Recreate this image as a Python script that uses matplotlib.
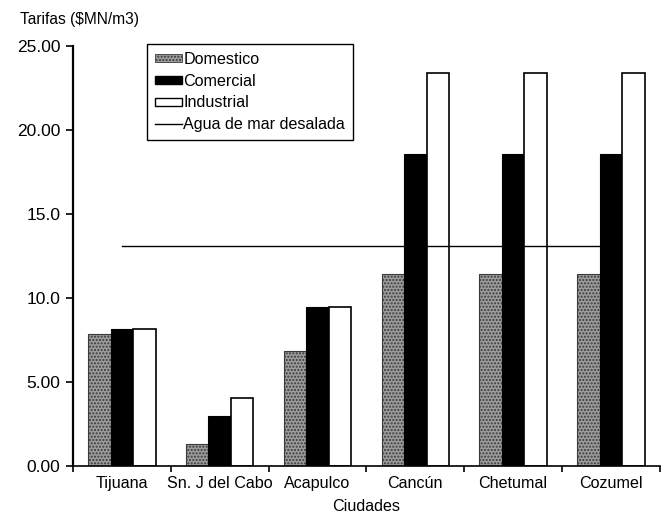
import numpy as np
import matplotlib
matplotlib.use('Agg')
import matplotlib.pyplot as plt
from matplotlib.lines import Line2D
from matplotlib.patches import Patch

plt.rcParams['font.family'] = ['Liberation Sans', 'DejaVu Sans']

ciudades = ['Tijuana', 'Sn. J del Cabo', 'Acapulco', 'Cancún', 'Chetumal', 'Cozumel']
domestico = [7.85, 1.33, 6.85, 11.45, 11.45, 11.45]
comercial = [8.15, 2.98, 9.45, 18.55, 18.55, 18.55]
industrial = [8.15, 4.03, 9.45, 23.4, 23.4, 23.4]
agua_mar = 13.1  # costo agua de mar desalada

yticks = [0, 5, 10, 15, 20, 25]
ytick_labels = ['0.00', '5.00', '10.0', '15.0', '20.00', '25.00']

fig = plt.figure(figsize=(6.66, 5.24), dpi=100)
ax = fig.add_axes([0.1096, 0.1107, 0.881, 0.8015])

x = np.arange(len(ciudades))
w = 0.23
dom_color = '#9c9c9c'
ax.bar(x - w, domestico, w, color=dom_color, edgecolor='#3a3a3a', hatch='.....', linewidth=0.8, zorder=2)
ax.bar(x, comercial, w, color='black', edgecolor='black', linewidth=0.8, zorder=2)
ax.bar(x + w, industrial, w, color='white', edgecolor='black', linewidth=1.2, zorder=2)
# la linea pasa por encima de las barras
ax.plot([x[0], x[-1]], [agua_mar, agua_mar], color='black', linewidth=1.0, zorder=3)

ax.set_xlim(-0.5, len(ciudades) - 0.5)
ax.set_ylim(0, 25)
ax.set_yticks(yticks)
ax.set_yticklabels(ytick_labels, fontsize=12.5)
ax.set_xticks(np.arange(len(ciudades) + 1) - 0.5)
ax.set_xticklabels([])
ax.set_xticks(x, minor=True)
ax.set_xticklabels(ciudades, minor=True, fontsize=11.6)
ax.tick_params(axis='x', which='minor', length=0, pad=7)
ax.tick_params(axis='x', which='major', length=4, width=1.2, direction='out')
ax.tick_params(axis='y', length=5, width=1.2, direction='out', pad=4)

for s in ['top', 'right']:
    ax.spines[s].set_visible(False)
ax.spines['left'].set_linewidth(1.6)
ax.spines['bottom'].set_linewidth(1.2)

fig.text(0.03, 0.962, 'Tarifas ($MN/m3)', fontsize=11.2, ha='left', va='center')
fig.text(0.55, 0.034, 'Ciudades', fontsize=11.6, ha='center', va='center')

handles = [
    Patch(facecolor=dom_color, edgecolor='#3a3a3a', hatch='.....', linewidth=0.6),
    Patch(facecolor='black', edgecolor='black'),
    Patch(facecolor='white', edgecolor='black', linewidth=1.0),
    Line2D([0], [0], color='black', linewidth=1.0),
]
labels = ['Domestico', 'Comercial', 'Industrial', 'Agua de mar desalada']
leg = ax.legend(handles, labels, loc='upper left', bbox_to_anchor=(0.126, 1.005),
                borderaxespad=0, fancybox=False, edgecolor='black', framealpha=1,
                fontsize=11.6, handlelength=1.65, handleheight=0.35, handletextpad=0.1,
                labelspacing=0.42, borderpad=0.5)
leg.get_frame().set_linewidth(1.0)

fig.savefig('out.png', dpi=100, facecolor='white')
